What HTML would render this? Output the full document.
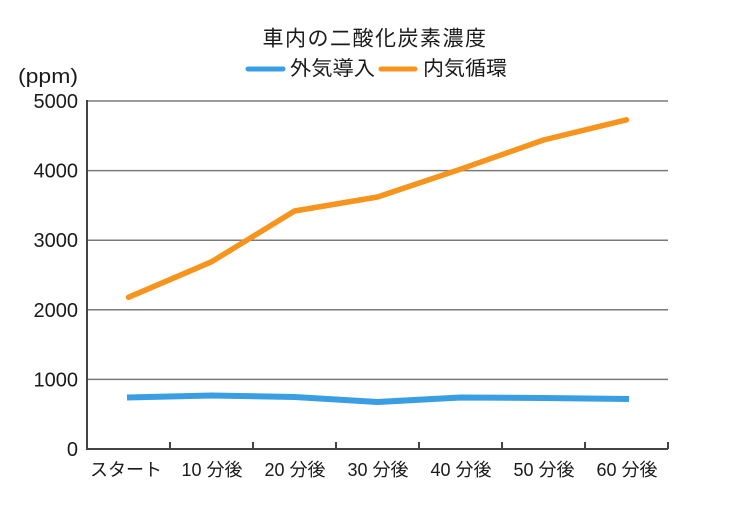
<!DOCTYPE html>
<html>
<head>
<meta charset="utf-8">
<style>
  html, body { margin: 0; padding: 0; background: #ffffff; }
  svg { display: block; }
  text { font-family: "Liberation Sans", "Noto Sans CJK JP", sans-serif; fill: #1a1a1a; }
</style>
</head>
<body>
<svg width="741" height="518" viewBox="0 0 741 518" xmlns="http://www.w3.org/2000/svg">
  <rect x="0" y="0" width="741" height="518" fill="#ffffff"/>

  <!-- Title -->
  <text x="375" y="39" font-size="21" text-anchor="middle" dominant-baseline="central" letter-spacing="1.5">車内の二酸化炭素濃度</text>

  <!-- Legend -->
  <line x1="248" y1="69" x2="283" y2="69" stroke="#3A9FE2" stroke-width="5" stroke-linecap="round"/>
  <text x="290" y="69" font-size="20" dominant-baseline="central" textLength="85" lengthAdjust="spacingAndGlyphs">外気導入</text>
  <line x1="381" y1="69" x2="415" y2="69" stroke="#F7941E" stroke-width="5" stroke-linecap="round"/>
  <text x="423" y="69" font-size="20" dominant-baseline="central" textLength="84" lengthAdjust="spacingAndGlyphs">内気循環</text>

  <!-- Unit -->
  <text x="18" y="77" font-size="20" dominant-baseline="central" textLength="60" lengthAdjust="spacingAndGlyphs">(ppm)</text>

  <!-- Gridlines -->
  <g stroke="#7a7a7a" stroke-width="1.5">
    <line x1="87" y1="101" x2="668" y2="101"/>
    <line x1="87" y1="170.6" x2="668" y2="170.6"/>
    <line x1="87" y1="240.2" x2="668" y2="240.2"/>
    <line x1="87" y1="309.8" x2="668" y2="309.8"/>
    <line x1="87" y1="379.4" x2="668" y2="379.4"/>
  </g>

  <!-- Axes -->
  <g stroke="#444444" stroke-width="2">
    <line x1="87" y1="100" x2="87" y2="450"/>
    <line x1="86" y1="449" x2="668" y2="449"/>
    <line x1="170" y1="442" x2="170" y2="449"/>
    <line x1="253" y1="442" x2="253" y2="449"/>
    <line x1="336" y1="442" x2="336" y2="449"/>
    <line x1="419" y1="442" x2="419" y2="449"/>
    <line x1="502" y1="442" x2="502" y2="449"/>
    <line x1="585" y1="442" x2="585" y2="449"/>
    <line x1="668" y1="442" x2="668" y2="449"/>
  </g>

  <!-- Y labels -->
  <g font-size="20" text-anchor="end">
    <text x="78" y="108">5000</text>
    <text x="78" y="177.6">4000</text>
    <text x="78" y="247.2">3000</text>
    <text x="78" y="316.8">2000</text>
    <text x="78" y="386.4">1000</text>
    <text x="78" y="456">0</text>
  </g>

  <!-- X labels -->
  <g font-size="18" text-anchor="middle">
    <text x="126" y="476">スタート</text>
    <text x="212" y="476">10 分後</text>
    <text x="295" y="476">20 分後</text>
    <text x="378" y="476">30 分後</text>
    <text x="461" y="476">40 分後</text>
    <text x="544" y="476">50 分後</text>
    <text x="627" y="476">60 分後</text>
  </g>

  <!-- Series: 内気循環 (orange) -->
  <polyline fill="none" stroke="#F7941E" stroke-width="5.5" stroke-linejoin="round" stroke-linecap="round"
    points="128.5,297.3 211.5,261.8 294.5,211 377.5,197 460.5,169.2 543.5,140 626.5,119.8"/>

  <!-- Series: 外気導入 (blue) -->
  <polyline fill="none" stroke="#3A9FE2" stroke-width="6" stroke-linejoin="round" stroke-linecap="butt"
    points="127,397.5 211.5,395.5 294.5,397 377.5,402 460.5,397.5 543.5,398 629,399"/>
</svg>
</body>
</html>
